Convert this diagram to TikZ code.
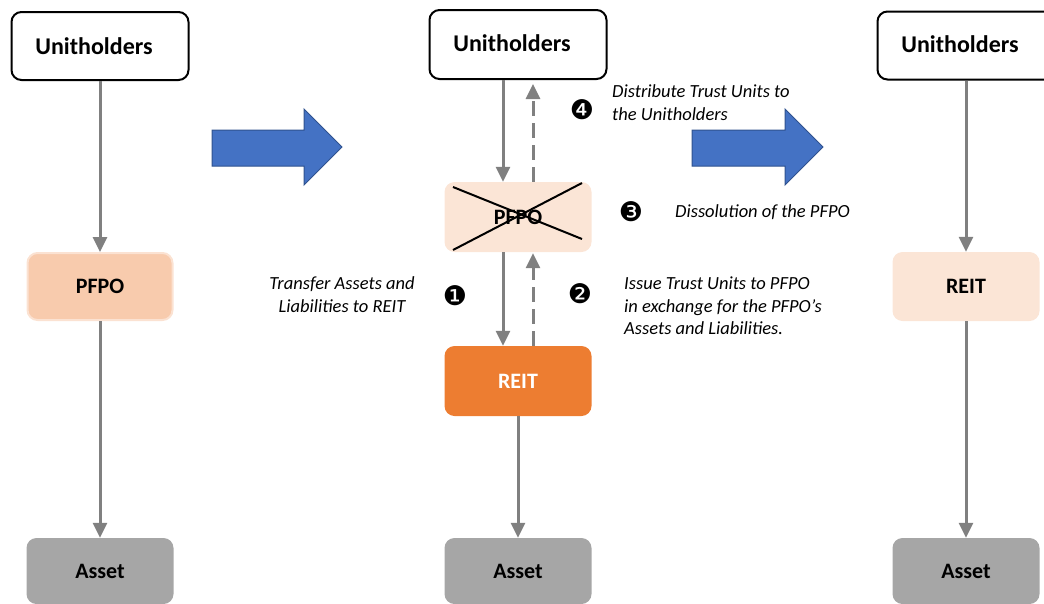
\documentclass[tikz,border=0pt]{standalone}
\usepackage{fontspec}
\setmainfont{Carlito}
\newfontfamily\dingfont{DejaVu Sans}
\usetikzlibrary{arrows.meta}
\definecolor{lnGray}{HTML}{808080}
\definecolor{assetGray}{HTML}{A6A6A6}
\definecolor{pfpoFill}{HTML}{F8CBAD}
\definecolor{pfpoEdge}{HTML}{FBE2D2}
\definecolor{lightFill}{HTML}{FBE5D6}
\definecolor{reitFill}{HTML}{ED7D31}
\definecolor{bigBlue}{HTML}{4472C4}
\definecolor{bigBlueEdge}{HTML}{2F528F}
\tikzset{
  boxbase/.style={rectangle, rounded corners=10pt, inner sep=0pt, font=\fontsize{22}{26}\selectfont\bfseries},
  unitbox/.style={boxbase, draw=black, line width=2pt, fill=white, minimum width=177pt, minimum height=68pt, font=\fontsize{24}{28}\selectfont\bfseries},
  pfpobox/.style={boxbase, fill=pfpoFill, draw=pfpoEdge, line width=2pt, minimum width=145pt, minimum height=67pt},
  lightbox/.style={boxbase, fill=lightFill, minimum width=147pt, minimum height=70pt},
  reitbox/.style={boxbase, fill=reitFill, text=white, minimum width=147pt, minimum height=70pt},
  assetbox/.style={boxbase, fill=assetGray, minimum width=147pt, minimum height=66pt},
  flow/.style={draw=lnGray, line width=3pt, -{Triangle[length=15pt,width=14pt]}, color=lnGray},
  dflow/.style={flow, dash pattern=on 15pt off 7pt},
  note/.style={font=\fontsize{18.5}{22.5}\selectfont\itshape, inner sep=0pt},
  num/.style={font=\dingfont\fontsize{27}{27}\selectfont, inner sep=0pt},
  bigarrow/.style={fill=bigBlue, draw=bigBlueEdge, line width=1pt},
  crossline/.style={draw=black, line width=2pt}
}
\begin{document}
\begin{tikzpicture}[x=1pt,y=-1pt]
\useasboundingbox (0,0) rectangle (1044,603);
\clip (0,0) rectangle (1044,603);
% left column
\node[unitbox] (u1) at (100,46) {\hspace*{-12pt}Unitholders};
\node[pfpobox] (p1) at (100,286.5) {PFPO};
\node[assetbox] (a1) at (100,571) {Asset};
\draw[flow] (u1.south) -- (p1.north);
\draw[flow] (p1.south) -- (a1.north);
% first big arrow
\draw[bigarrow] (212,130) -- (304,130) -- (304,109) -- (342,147) -- (304,185) -- (304,166) -- (212,166) -- cycle;
% middle column
\node[unitbox, minimum height=69pt] (u2) at (518,44.5) {\raisebox{3pt}{\hspace*{-12pt}Unitholders}};
\node[lightbox] (p2) at (518,217) {PFPO};
\node[reitbox] (r2) at (518,381) {REIT};
\node[assetbox] (a2) at (518,571) {Asset};
\draw[crossline] (453,187) -- (582,239);
\draw[crossline] (453,250) -- (582,183);
\draw[flow] ([xshift=-15pt]u2.south) -- ([xshift=-15pt]p2.north);
\draw[dflow, shorten >=4pt] ([xshift=15pt]p2.north) -- ([xshift=15pt]u2.south);
\draw[flow] ([xshift=-15pt]p2.south) -- ([xshift=-15pt]r2.north);
\draw[dflow, shorten >=1pt] ([xshift=15pt]r2.north) -- ([xshift=15pt]p2.south);
\draw[flow] (r2.south) -- (a2.north);
% labels middle
\node[num] (n4) at (582,110) {❹};
\node[note, anchor=west, align=left] (t4) at (612,102.5) {Distribute Trust Units to\\the Unitholders};
\node[num] (n3) at (631,212) {❸};
\node[note, anchor=west] (t3) at (675,212) {Dissolution of the PFPO};
\node[num] (n1) at (455,296) {❶};
\node[note, align=center] (t1) at (342,294.5) {Transfer Assets and\\Liabilities to REIT};
\node[num] (n2) at (580,294) {❷};
\node[note, anchor=west, align=left] (t2) at (624,306) {Issue Trust Units to PFPO\\in exchange for the PFPO’s\\Assets and Liabilities.};
% second big arrow
\draw[bigarrow] (692,130) -- (785,130) -- (785,109) -- (823,147) -- (785,185) -- (785,166) -- (692,166) -- cycle;
% right column
\node[unitbox] (u3) at (966,45.5) {\raisebox{2pt}{\hspace*{-12pt}Unitholders}};
\node[lightbox, minimum height=69pt] (r3) at (966,286.5) {REIT};
\node[assetbox] (a3) at (966,571) {Asset};
\draw[flow] (u3.south) -- (r3.north);
\draw[flow] (r3.south) -- (a3.north);
\end{tikzpicture}
\end{document}
